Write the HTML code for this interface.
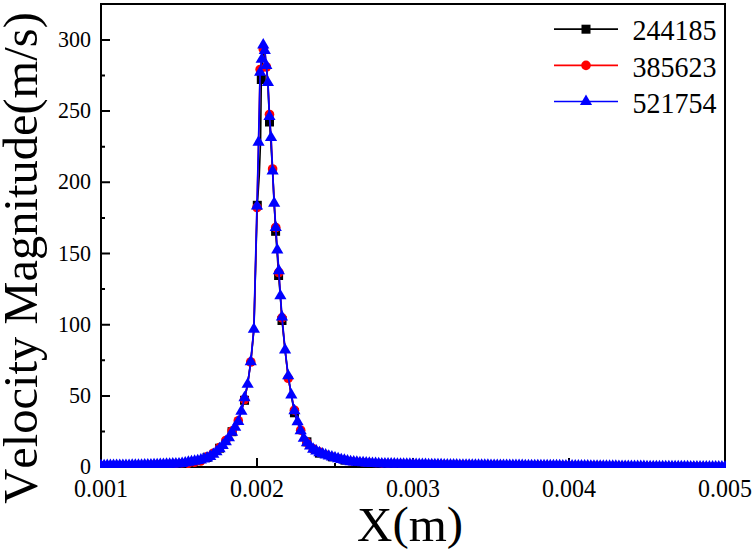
<!DOCTYPE html>
<html><head><meta charset="utf-8"><style>
html,body{margin:0;padding:0;background:#fff;}
svg{display:block;font-family:"Liberation Serif",serif;font-kerning:none;}
</style></head><body>
<svg width="753" height="550" viewBox="0 0 753 550">
<defs>
<clipPath id="c"><rect x="100" y="3" width="626" height="465"/></clipPath>
<path id="t" d="M0,-6.93 L6.10,3.47 L-6.10,3.47Z" fill="#0000ff"/>
<rect id="s" x="-4.5" y="-4.5" width="9.0" height="9.0" fill="#000"/>
<circle id="o" r="4.8" fill="#ff0000"/>
<circle id="o2" r="4.3" fill="#ff0000"/>
<rect id="s2" x="-4" y="-4" width="8" height="8" fill="#000"/>
</defs>
<rect width="753" height="550" fill="#fff"/>
<path d="M101,431.5h4M101,395.9h9M101,360.3h4M101,324.7h9M101,289.1h4M101,253.5h9M101,217.9h4M101,182.3h9M101,146.7h4M101,111.1h9M101,75.5h4M101,39.9h9M179.0,467v-4M257.0,467v-9M335.0,467v-4M413.0,467v-9M491.0,467v-4M569.0,467v-9M647.0,467v-4" stroke="#000" stroke-width="2" fill="none"/>
<rect x="101" y="4" width="624" height="463" fill="none" stroke="#000" stroke-width="2"/>
<g clip-path="url(#c)">
<path d="M101.00,465.90 L104.12,465.87 L107.24,465.84 L110.36,465.80 L113.48,465.77 L116.60,465.74 L119.72,465.71 L122.84,465.68 L125.96,465.64 L129.08,465.61 L132.20,465.58 L135.32,465.55 L138.44,465.52 L141.56,465.45 L144.68,465.34 L147.80,465.23 L150.92,465.12 L154.04,465.01 L157.16,464.90 L160.28,464.79 L163.40,464.68 L166.52,464.57 L169.64,464.46 L172.76,464.35 L175.88,464.24 L179.00,464.14 L182.12,463.72 L185.24,463.16 L188.36,462.60 L191.48,462.03 L194.60,461.47 L197.72,460.91 L200.84,459.33 L203.96,458.34 L207.08,457.40 L210.20,455.90 L213.32,453.80 L216.44,451.20 L219.56,448.20 L222.68,444.90 L225.80,441.10 L228.92,437.30 L232.04,431.70 L235.16,426.70 L238.28,421.00 L241.40,410.70 L244.52,400.30 L247.64,383.80 L250.76,362.20 L253.88,329.70 L257.30,205.30 L259.30,175.00 L260.60,140.00 L261.30,79.50 L263.24,48.00 L266.40,66.00 L267.90,84.00 L269.50,122.00 L272.60,171.00 L275.60,231.30 L277.10,253.00 L278.60,275.50 L280.40,297.50 L282.00,320.50 L285.08,350.50 L288.20,376.40 L291.32,395.50 L294.44,412.80 L297.56,422.30 L300.68,431.20 L303.80,438.90 L306.92,441.80 L310.04,446.50 L313.16,449.80 L316.28,451.48 L319.40,453.17 L322.52,454.18 L325.64,455.27 L328.76,456.37 L331.88,457.33 L335.00,458.20 L338.12,459.07 L341.24,459.89 L344.36,460.60 L347.48,461.32 L350.60,461.96 L353.72,462.27 L356.84,462.58 L359.96,462.90 L363.08,463.08 L366.20,463.27 L369.32,463.46 L372.44,463.65 L375.56,463.83 L378.68,464.02 L381.80,464.13 L384.92,464.18 L388.04,464.23 L391.16,464.28 L394.28,464.33 L397.40,464.38 L400.52,464.43 L403.64,464.48 L406.76,464.53 L409.88,464.59 L413.00,464.64 L416.12,464.69 L419.24,464.74 L422.36,464.79 L425.48,464.84 L428.60,464.89 L431.72,464.94 L434.84,464.99 L437.96,465.04 L441.08,465.09 L444.20,465.14 L447.32,465.19 L450.44,465.24 L453.56,465.30 L456.68,465.35 L459.80,465.40 L462.92,465.42 L466.04,465.44 L469.16,465.46 L472.28,465.49 L475.40,465.51 L478.52,465.53 L481.64,465.55 L484.76,465.57 L487.88,465.60 L491.00,465.62 L494.12,465.64 L497.24,465.66 L500.36,465.68 L503.48,465.70 L506.60,465.73 L509.72,465.75 L512.84,465.77 L515.96,465.79 L519.08,465.81 L522.20,465.84 L525.32,465.86 L528.44,465.88 L531.56,465.90 L534.68,465.92 L537.80,465.94 L540.92,465.97 L544.04,465.99 L547.16,466.01 L550.28,466.03 L553.40,466.05 L556.52,466.08 L559.64,466.10 L562.76,466.12 L565.88,466.15 L569.00,466.18 L572.12,466.21 L575.24,466.24 L578.36,466.26 L581.48,466.29 L584.60,466.32 L587.72,466.35 L590.84,466.37 L593.96,466.40 L597.08,466.43 L600.20,466.46 L603.32,466.49 L606.44,466.51 L609.56,466.54 L612.68,466.57 L615.80,466.60 L618.92,466.62 L622.04,466.65 L625.16,466.68 L628.28,466.71 L631.40,466.73 L634.52,466.76 L637.64,466.79 L640.76,466.82 L643.88,466.85 L647.00,466.87 L650.12,466.90 L653.24,466.92 L656.36,466.93 L659.48,466.95 L662.60,466.97 L665.72,466.98 L668.84,467.00 L671.96,467.02 L675.08,467.03 L678.20,467.05 L681.32,467.07 L684.44,467.08 L687.56,467.10 L690.68,467.12 L693.80,467.13 L696.92,467.15 L700.04,467.17 L703.16,467.18 L706.28,467.20 L709.40,467.22 L712.52,467.23 L715.64,467.25 L718.76,467.27 L721.88,467.28 L725.00,467.30" fill="none" stroke="#000" stroke-width="1.6" stroke-linejoin="round"/>
<use href="#s2" x="107.24" y="465.84"/><use href="#s2" x="119.72" y="465.71"/><use href="#s2" x="132.20" y="465.58"/><use href="#s2" x="144.68" y="465.34"/><use href="#s2" x="157.16" y="464.90"/><use href="#s2" x="169.64" y="464.46"/><use href="#s2" x="182.12" y="463.72"/><use href="#s2" x="194.60" y="461.47"/><use href="#s" x="207.08" y="457.40"/><use href="#s" x="219.56" y="448.20"/><use href="#s" x="232.04" y="431.70"/><use href="#s" x="244.52" y="400.30"/><use href="#s" x="257.30" y="205.30"/><use href="#s" x="261.30" y="79.50"/><use href="#s" x="269.50" y="122.00"/><use href="#s" x="275.60" y="231.30"/><use href="#s" x="278.60" y="275.50"/><use href="#s" x="282.00" y="320.50"/><use href="#s" x="294.44" y="412.80"/><use href="#s" x="306.92" y="441.80"/><use href="#s" x="319.40" y="453.17"/><use href="#s2" x="331.88" y="457.33"/><use href="#s2" x="344.36" y="460.60"/><use href="#s2" x="356.84" y="462.58"/><use href="#s2" x="369.32" y="463.46"/><use href="#s2" x="381.80" y="464.13"/><use href="#s2" x="394.28" y="464.33"/><use href="#s2" x="406.76" y="464.53"/><use href="#s2" x="419.24" y="464.74"/><use href="#s2" x="431.72" y="464.94"/><use href="#s2" x="444.20" y="465.14"/><use href="#s2" x="456.68" y="465.35"/><use href="#s2" x="469.16" y="465.46"/><use href="#s2" x="481.64" y="465.55"/><use href="#s2" x="494.12" y="465.64"/><use href="#s2" x="506.60" y="465.73"/><use href="#s2" x="519.08" y="465.81"/><use href="#s2" x="531.56" y="465.90"/><use href="#s2" x="544.04" y="465.99"/><use href="#s2" x="556.52" y="466.08"/><use href="#s2" x="569.00" y="466.18"/><use href="#s2" x="581.48" y="466.29"/><use href="#s2" x="593.96" y="466.40"/><use href="#s2" x="606.44" y="466.51"/><use href="#s2" x="618.92" y="466.62"/><use href="#s2" x="631.40" y="466.73"/><use href="#s2" x="643.88" y="466.85"/><use href="#s2" x="656.36" y="466.93"/><use href="#s2" x="668.84" y="467.00"/><use href="#s2" x="681.32" y="467.07"/><use href="#s2" x="693.80" y="467.13"/><use href="#s2" x="706.28" y="467.20"/><use href="#s2" x="718.76" y="467.27"/>
<path d="M101.00,465.30 L104.12,465.27 L107.24,465.24 L110.36,465.20 L113.48,465.17 L116.60,465.14 L119.72,465.11 L122.84,465.08 L125.96,465.04 L129.08,465.01 L132.20,464.98 L135.32,464.95 L138.44,464.92 L141.56,464.85 L144.68,464.74 L147.80,464.63 L150.92,464.52 L154.04,464.41 L157.16,464.30 L160.28,464.19 L163.40,464.08 L166.52,463.97 L169.64,463.86 L172.76,463.75 L175.88,463.64 L179.00,463.54 L182.12,463.12 L185.24,464.36 L188.36,463.80 L191.48,463.23 L194.60,462.67 L197.72,462.11 L200.84,461.43 L203.96,460.44 L207.08,456.80 L210.20,455.30 L213.32,453.20 L216.44,450.60 L219.56,447.60 L222.68,444.30 L225.80,440.50 L228.92,436.70 L232.04,431.10 L235.16,426.10 L238.28,420.70 L241.40,410.10 L244.52,399.50 L247.64,383.90 L250.76,362.00 L253.88,328.70 L257.00,207.50 L258.56,142.20 L260.12,69.50 L261.68,59.40 L263.24,49.00 L264.80,50.60 L266.36,67.00 L267.92,82.60 L269.48,114.50 L271.04,137.60 L272.60,169.00 L274.16,203.30 L275.72,227.50 L277.28,250.00 L278.84,272.50 L280.40,295.90 L281.96,317.80 L285.08,349.50 L288.20,378.30 L291.32,394.50 L294.44,410.20 L297.56,421.30 L300.68,430.20 L303.80,437.90 L306.92,442.40 L310.04,445.50 L313.16,448.80 L316.28,450.48 L319.40,452.17 L322.52,453.38 L325.64,454.47 L328.76,455.57 L331.88,456.53 L335.00,457.40 L338.12,458.27 L341.24,459.09 L344.36,459.80 L347.48,460.52 L350.60,461.16 L353.72,461.47 L356.84,461.78 L359.96,462.10 L363.08,462.28 L366.20,462.47 L369.32,462.66 L372.44,462.85 L375.56,463.03 L378.68,463.22 L381.80,463.33 L384.92,463.38 L388.04,463.43 L391.16,463.48 L394.28,463.53 L397.40,463.58 L400.52,463.63 L403.64,463.68 L406.76,463.73 L409.88,463.79 L413.00,463.84 L416.12,463.89 L419.24,463.94 L422.36,463.99 L425.48,464.04 L428.60,464.09 L431.72,464.14 L434.84,464.19 L437.96,464.24 L441.08,464.29 L444.20,464.34 L447.32,464.39 L450.44,464.44 L453.56,464.50 L456.68,464.55 L459.80,464.60 L462.92,464.62 L466.04,464.64 L469.16,464.66 L472.28,464.69 L475.40,464.71 L478.52,464.73 L481.64,464.75 L484.76,464.77 L487.88,464.80 L491.00,464.82 L494.12,464.84 L497.24,464.86 L500.36,464.88 L503.48,464.90 L506.60,464.93 L509.72,464.95 L512.84,464.97 L515.96,464.99 L519.08,465.01 L522.20,465.04 L525.32,465.06 L528.44,465.08 L531.56,465.10 L534.68,465.12 L537.80,465.14 L540.92,465.17 L544.04,465.19 L547.16,465.21 L550.28,465.23 L553.40,465.25 L556.52,465.28 L559.64,465.30 L562.76,465.32 L565.88,465.35 L569.00,465.38 L572.12,465.41 L575.24,465.44 L578.36,465.46 L581.48,465.49 L584.60,465.52 L587.72,465.55 L590.84,465.57 L593.96,465.60 L597.08,465.63 L600.20,465.66 L603.32,465.69 L606.44,465.71 L609.56,465.74 L612.68,465.77 L615.80,465.80 L618.92,465.82 L622.04,465.85 L625.16,465.88 L628.28,465.91 L631.40,465.93 L634.52,465.96 L637.64,465.99 L640.76,466.02 L643.88,466.05 L647.00,466.07 L650.12,466.10 L653.24,466.12 L656.36,466.13 L659.48,466.15 L662.60,466.17 L665.72,466.18 L668.84,466.20 L671.96,466.22 L675.08,466.23 L678.20,466.25 L681.32,466.27 L684.44,466.28 L687.56,466.30 L690.68,466.32 L693.80,466.33 L696.92,466.35 L700.04,466.37 L703.16,466.38 L706.28,466.40 L709.40,466.42 L712.52,466.43 L715.64,466.45 L718.76,466.47 L721.88,466.48 L725.00,466.50" fill="none" stroke="#ff0000" stroke-width="1.6" stroke-linejoin="round"/>
<use href="#o2" x="101.00" y="465.30"/><use href="#o2" x="107.24" y="465.24"/><use href="#o2" x="113.48" y="465.17"/><use href="#o2" x="119.72" y="465.11"/><use href="#o2" x="125.96" y="465.04"/><use href="#o2" x="132.20" y="464.98"/><use href="#o2" x="138.44" y="464.92"/><use href="#o2" x="144.68" y="464.74"/><use href="#o2" x="150.92" y="464.52"/><use href="#o2" x="157.16" y="464.30"/><use href="#o2" x="163.40" y="464.08"/><use href="#o2" x="169.64" y="463.86"/><use href="#o2" x="175.88" y="463.64"/><use href="#o2" x="182.12" y="463.12"/><use href="#o2" x="188.36" y="463.80"/><use href="#o2" x="194.60" y="462.67"/><use href="#o2" x="200.84" y="461.43"/><use href="#o" x="207.08" y="456.80"/><use href="#o" x="213.32" y="453.20"/><use href="#o" x="219.56" y="447.60"/><use href="#o" x="225.80" y="440.50"/><use href="#o" x="232.04" y="431.10"/><use href="#o" x="238.28" y="420.70"/><use href="#o" x="244.52" y="399.50"/><use href="#o" x="250.76" y="362.00"/><use href="#o" x="257.00" y="207.50"/><use href="#o" x="260.12" y="69.50"/><use href="#o" x="263.24" y="49.00"/><use href="#o" x="266.36" y="67.00"/><use href="#o" x="269.48" y="114.50"/><use href="#o" x="272.60" y="169.00"/><use href="#o" x="275.72" y="227.50"/><use href="#o" x="278.84" y="272.50"/><use href="#o" x="281.96" y="317.80"/><use href="#o" x="288.20" y="378.30"/><use href="#o" x="294.44" y="410.20"/><use href="#o" x="300.68" y="430.20"/><use href="#o" x="306.92" y="442.40"/><use href="#o" x="313.16" y="448.80"/><use href="#o" x="319.40" y="452.17"/><use href="#o2" x="325.64" y="454.47"/><use href="#o2" x="331.88" y="456.53"/><use href="#o2" x="338.12" y="458.27"/><use href="#o2" x="344.36" y="459.80"/><use href="#o2" x="350.60" y="461.16"/><use href="#o2" x="356.84" y="461.78"/><use href="#o2" x="363.08" y="462.28"/><use href="#o2" x="369.32" y="462.66"/><use href="#o2" x="375.56" y="463.03"/><use href="#o2" x="381.80" y="463.33"/><use href="#o2" x="388.04" y="463.43"/><use href="#o2" x="394.28" y="463.53"/><use href="#o2" x="400.52" y="463.63"/><use href="#o2" x="406.76" y="463.73"/><use href="#o2" x="413.00" y="463.84"/><use href="#o2" x="419.24" y="463.94"/><use href="#o2" x="425.48" y="464.04"/><use href="#o2" x="431.72" y="464.14"/><use href="#o2" x="437.96" y="464.24"/><use href="#o2" x="444.20" y="464.34"/><use href="#o2" x="450.44" y="464.44"/><use href="#o2" x="456.68" y="464.55"/><use href="#o2" x="462.92" y="464.62"/><use href="#o2" x="469.16" y="464.66"/><use href="#o2" x="475.40" y="464.71"/><use href="#o2" x="481.64" y="464.75"/><use href="#o2" x="487.88" y="464.80"/><use href="#o2" x="494.12" y="464.84"/><use href="#o2" x="500.36" y="464.88"/><use href="#o2" x="506.60" y="464.93"/><use href="#o2" x="512.84" y="464.97"/><use href="#o2" x="519.08" y="465.01"/><use href="#o2" x="525.32" y="465.06"/><use href="#o2" x="531.56" y="465.10"/><use href="#o2" x="537.80" y="465.14"/><use href="#o2" x="544.04" y="465.19"/><use href="#o2" x="550.28" y="465.23"/><use href="#o2" x="556.52" y="465.28"/><use href="#o2" x="562.76" y="465.32"/><use href="#o2" x="569.00" y="465.38"/><use href="#o2" x="575.24" y="465.44"/><use href="#o2" x="581.48" y="465.49"/><use href="#o2" x="587.72" y="465.55"/><use href="#o2" x="593.96" y="465.60"/><use href="#o2" x="600.20" y="465.66"/><use href="#o2" x="606.44" y="465.71"/><use href="#o2" x="612.68" y="465.77"/><use href="#o2" x="618.92" y="465.82"/><use href="#o2" x="625.16" y="465.88"/><use href="#o2" x="631.40" y="465.93"/><use href="#o2" x="637.64" y="465.99"/><use href="#o2" x="643.88" y="466.05"/><use href="#o2" x="650.12" y="466.10"/><use href="#o2" x="656.36" y="466.13"/><use href="#o2" x="662.60" y="466.17"/><use href="#o2" x="668.84" y="466.20"/><use href="#o2" x="675.08" y="466.23"/><use href="#o2" x="681.32" y="466.27"/><use href="#o2" x="687.56" y="466.30"/><use href="#o2" x="693.80" y="466.33"/><use href="#o2" x="700.04" y="466.37"/><use href="#o2" x="706.28" y="466.40"/><use href="#o2" x="712.52" y="466.43"/><use href="#o2" x="718.76" y="466.47"/><use href="#o2" x="725.00" y="466.50"/>
<path d="M101.00,465.60 L104.12,465.57 L107.24,465.54 L110.36,465.50 L113.48,465.47 L116.60,465.44 L119.72,465.41 L122.84,465.38 L125.96,465.34 L129.08,465.31 L132.20,465.28 L135.32,465.25 L138.44,465.22 L141.56,465.15 L144.68,465.04 L147.80,464.93 L150.92,464.82 L154.04,464.71 L157.16,464.60 L160.28,464.49 L163.40,464.38 L166.52,464.27 L169.64,464.16 L172.76,464.05 L175.88,463.94 L179.00,463.84 L182.12,463.42 L185.24,462.86 L188.36,462.30 L191.48,461.73 L194.60,461.17 L197.72,460.61 L200.84,459.93 L203.96,458.94 L207.08,458.00 L210.20,456.50 L213.32,454.40 L216.44,451.80 L219.56,448.80 L222.68,445.50 L225.80,441.70 L228.92,437.90 L232.04,432.30 L235.16,427.30 L238.28,421.60 L241.40,411.30 L244.52,397.80 L247.64,384.40 L250.76,361.70 L253.88,329.20 L257.00,206.10 L258.56,142.20 L260.12,72.40 L261.68,59.40 L263.24,45.00 L264.80,50.60 L266.36,65.60 L267.92,82.60 L269.48,116.60 L271.04,137.60 L272.60,171.10 L274.16,203.30 L275.72,227.50 L277.28,250.00 L278.84,270.70 L280.40,295.90 L281.96,317.00 L285.08,350.00 L288.20,375.90 L291.32,395.00 L294.44,410.70 L297.56,421.80 L300.68,430.70 L303.80,438.40 L306.92,442.90 L310.04,446.00 L313.16,449.30 L316.28,450.98 L319.40,452.67 L322.52,453.88 L325.64,454.97 L328.76,456.07 L331.88,457.03 L335.00,457.90 L338.12,458.77 L341.24,459.59 L344.36,460.30 L347.48,461.02 L350.60,461.66 L353.72,461.97 L356.84,462.28 L359.96,462.60 L363.08,462.78 L366.20,462.97 L369.32,463.16 L372.44,463.35 L375.56,463.53 L378.68,463.72 L381.80,463.83 L384.92,463.88 L388.04,463.93 L391.16,463.98 L394.28,464.03 L397.40,464.08 L400.52,464.13 L403.64,464.18 L406.76,464.23 L409.88,464.29 L413.00,464.34 L416.12,464.39 L419.24,464.44 L422.36,464.49 L425.48,464.54 L428.60,464.59 L431.72,464.64 L434.84,464.69 L437.96,464.74 L441.08,464.79 L444.20,464.84 L447.32,464.89 L450.44,464.94 L453.56,465.00 L456.68,465.05 L459.80,465.10 L462.92,465.12 L466.04,465.14 L469.16,465.16 L472.28,465.19 L475.40,465.21 L478.52,465.23 L481.64,465.25 L484.76,465.27 L487.88,465.30 L491.00,465.32 L494.12,465.34 L497.24,465.36 L500.36,465.38 L503.48,465.40 L506.60,465.43 L509.72,465.45 L512.84,465.47 L515.96,465.49 L519.08,465.51 L522.20,465.54 L525.32,465.56 L528.44,465.58 L531.56,465.60 L534.68,465.62 L537.80,465.64 L540.92,465.67 L544.04,465.69 L547.16,465.71 L550.28,465.73 L553.40,465.75 L556.52,465.78 L559.64,465.80 L562.76,465.82 L565.88,465.85 L569.00,465.88 L572.12,465.91 L575.24,465.94 L578.36,465.96 L581.48,465.99 L584.60,466.02 L587.72,466.05 L590.84,466.07 L593.96,466.10 L597.08,466.13 L600.20,466.16 L603.32,466.19 L606.44,466.21 L609.56,466.24 L612.68,466.27 L615.80,466.30 L618.92,466.32 L622.04,466.35 L625.16,466.38 L628.28,466.41 L631.40,466.43 L634.52,466.46 L637.64,466.49 L640.76,466.52 L643.88,466.55 L647.00,466.57 L650.12,466.60 L653.24,466.62 L656.36,466.63 L659.48,466.65 L662.60,466.67 L665.72,466.68 L668.84,466.70 L671.96,466.72 L675.08,466.73 L678.20,466.75 L681.32,466.77 L684.44,466.78 L687.56,466.80 L690.68,466.82 L693.80,466.83 L696.92,466.85 L700.04,466.87 L703.16,466.88 L706.28,466.90 L709.40,466.92 L712.52,466.93 L715.64,466.95 L718.76,466.97 L721.88,466.98 L725.00,467.00" fill="none" stroke="#0000ff" stroke-width="1.8" stroke-linejoin="round"/>
<use href="#t" x="101.00" y="465.60"/><use href="#t" x="104.12" y="465.57"/><use href="#t" x="107.24" y="465.54"/><use href="#t" x="110.36" y="465.50"/><use href="#t" x="113.48" y="465.47"/><use href="#t" x="116.60" y="465.44"/><use href="#t" x="119.72" y="465.41"/><use href="#t" x="122.84" y="465.38"/><use href="#t" x="125.96" y="465.34"/><use href="#t" x="129.08" y="465.31"/><use href="#t" x="132.20" y="465.28"/><use href="#t" x="135.32" y="465.25"/><use href="#t" x="138.44" y="465.22"/><use href="#t" x="141.56" y="465.15"/><use href="#t" x="144.68" y="465.04"/><use href="#t" x="147.80" y="464.93"/><use href="#t" x="150.92" y="464.82"/><use href="#t" x="154.04" y="464.71"/><use href="#t" x="157.16" y="464.60"/><use href="#t" x="160.28" y="464.49"/><use href="#t" x="163.40" y="464.38"/><use href="#t" x="166.52" y="464.27"/><use href="#t" x="169.64" y="464.16"/><use href="#t" x="172.76" y="464.05"/><use href="#t" x="175.88" y="463.94"/><use href="#t" x="179.00" y="463.84"/><use href="#t" x="182.12" y="463.42"/><use href="#t" x="185.24" y="462.86"/><use href="#t" x="188.36" y="462.30"/><use href="#t" x="191.48" y="461.73"/><use href="#t" x="194.60" y="461.17"/><use href="#t" x="197.72" y="460.61"/><use href="#t" x="200.84" y="459.93"/><use href="#t" x="203.96" y="458.94"/><use href="#t" x="207.08" y="458.00"/><use href="#t" x="210.20" y="456.50"/><use href="#t" x="213.32" y="454.40"/><use href="#t" x="216.44" y="451.80"/><use href="#t" x="219.56" y="448.80"/><use href="#t" x="222.68" y="445.50"/><use href="#t" x="225.80" y="441.70"/><use href="#t" x="228.92" y="437.90"/><use href="#t" x="232.04" y="432.30"/><use href="#t" x="235.16" y="427.30"/><use href="#t" x="238.28" y="421.60"/><use href="#t" x="241.40" y="411.30"/><use href="#t" x="244.52" y="397.80"/><use href="#t" x="247.64" y="384.40"/><use href="#t" x="250.76" y="361.70"/><use href="#t" x="253.88" y="329.20"/><use href="#t" x="257.00" y="206.10"/><use href="#t" x="258.56" y="142.20"/><use href="#t" x="260.12" y="72.40"/><use href="#t" x="261.68" y="59.40"/><use href="#t" x="263.24" y="45.00"/><use href="#t" x="264.80" y="50.60"/><use href="#t" x="266.36" y="65.60"/><use href="#t" x="267.92" y="82.60"/><use href="#t" x="269.48" y="116.60"/><use href="#t" x="271.04" y="137.60"/><use href="#t" x="272.60" y="171.10"/><use href="#t" x="274.16" y="203.30"/><use href="#t" x="275.72" y="227.50"/><use href="#t" x="277.28" y="250.00"/><use href="#t" x="278.84" y="270.70"/><use href="#t" x="280.40" y="295.90"/><use href="#t" x="281.96" y="317.00"/><use href="#t" x="285.08" y="350.00"/><use href="#t" x="288.20" y="375.90"/><use href="#t" x="291.32" y="395.00"/><use href="#t" x="294.44" y="410.70"/><use href="#t" x="297.56" y="421.80"/><use href="#t" x="300.68" y="430.70"/><use href="#t" x="303.80" y="438.40"/><use href="#t" x="306.92" y="442.90"/><use href="#t" x="310.04" y="446.00"/><use href="#t" x="313.16" y="449.30"/><use href="#t" x="316.28" y="450.98"/><use href="#t" x="319.40" y="452.67"/><use href="#t" x="322.52" y="453.88"/><use href="#t" x="325.64" y="454.97"/><use href="#t" x="328.76" y="456.07"/><use href="#t" x="331.88" y="457.03"/><use href="#t" x="335.00" y="457.90"/><use href="#t" x="338.12" y="458.77"/><use href="#t" x="341.24" y="459.59"/><use href="#t" x="344.36" y="460.30"/><use href="#t" x="347.48" y="461.02"/><use href="#t" x="350.60" y="461.66"/><use href="#t" x="353.72" y="461.97"/><use href="#t" x="356.84" y="462.28"/><use href="#t" x="359.96" y="462.60"/><use href="#t" x="363.08" y="462.78"/><use href="#t" x="366.20" y="462.97"/><use href="#t" x="369.32" y="463.16"/><use href="#t" x="372.44" y="463.35"/><use href="#t" x="375.56" y="463.53"/><use href="#t" x="378.68" y="463.72"/><use href="#t" x="381.80" y="463.83"/><use href="#t" x="384.92" y="463.88"/><use href="#t" x="388.04" y="463.93"/><use href="#t" x="391.16" y="463.98"/><use href="#t" x="394.28" y="464.03"/><use href="#t" x="397.40" y="464.08"/><use href="#t" x="400.52" y="464.13"/><use href="#t" x="403.64" y="464.18"/><use href="#t" x="406.76" y="464.23"/><use href="#t" x="409.88" y="464.29"/><use href="#t" x="413.00" y="464.34"/><use href="#t" x="416.12" y="464.39"/><use href="#t" x="419.24" y="464.44"/><use href="#t" x="422.36" y="464.49"/><use href="#t" x="425.48" y="464.54"/><use href="#t" x="428.60" y="464.59"/><use href="#t" x="431.72" y="464.64"/><use href="#t" x="434.84" y="464.69"/><use href="#t" x="437.96" y="464.74"/><use href="#t" x="441.08" y="464.79"/><use href="#t" x="444.20" y="464.84"/><use href="#t" x="447.32" y="464.89"/><use href="#t" x="450.44" y="464.94"/><use href="#t" x="453.56" y="465.00"/><use href="#t" x="456.68" y="465.05"/><use href="#t" x="459.80" y="465.10"/><use href="#t" x="462.92" y="465.12"/><use href="#t" x="466.04" y="465.14"/><use href="#t" x="469.16" y="465.16"/><use href="#t" x="472.28" y="465.19"/><use href="#t" x="475.40" y="465.21"/><use href="#t" x="478.52" y="465.23"/><use href="#t" x="481.64" y="465.25"/><use href="#t" x="484.76" y="465.27"/><use href="#t" x="487.88" y="465.30"/><use href="#t" x="491.00" y="465.32"/><use href="#t" x="494.12" y="465.34"/><use href="#t" x="497.24" y="465.36"/><use href="#t" x="500.36" y="465.38"/><use href="#t" x="503.48" y="465.40"/><use href="#t" x="506.60" y="465.43"/><use href="#t" x="509.72" y="465.45"/><use href="#t" x="512.84" y="465.47"/><use href="#t" x="515.96" y="465.49"/><use href="#t" x="519.08" y="465.51"/><use href="#t" x="522.20" y="465.54"/><use href="#t" x="525.32" y="465.56"/><use href="#t" x="528.44" y="465.58"/><use href="#t" x="531.56" y="465.60"/><use href="#t" x="534.68" y="465.62"/><use href="#t" x="537.80" y="465.64"/><use href="#t" x="540.92" y="465.67"/><use href="#t" x="544.04" y="465.69"/><use href="#t" x="547.16" y="465.71"/><use href="#t" x="550.28" y="465.73"/><use href="#t" x="553.40" y="465.75"/><use href="#t" x="556.52" y="465.78"/><use href="#t" x="559.64" y="465.80"/><use href="#t" x="562.76" y="465.82"/><use href="#t" x="565.88" y="465.85"/><use href="#t" x="569.00" y="465.88"/><use href="#t" x="572.12" y="465.91"/><use href="#t" x="575.24" y="465.94"/><use href="#t" x="578.36" y="465.96"/><use href="#t" x="581.48" y="465.99"/><use href="#t" x="584.60" y="466.02"/><use href="#t" x="587.72" y="466.05"/><use href="#t" x="590.84" y="466.07"/><use href="#t" x="593.96" y="466.10"/><use href="#t" x="597.08" y="466.13"/><use href="#t" x="600.20" y="466.16"/><use href="#t" x="603.32" y="466.19"/><use href="#t" x="606.44" y="466.21"/><use href="#t" x="609.56" y="466.24"/><use href="#t" x="612.68" y="466.27"/><use href="#t" x="615.80" y="466.30"/><use href="#t" x="618.92" y="466.32"/><use href="#t" x="622.04" y="466.35"/><use href="#t" x="625.16" y="466.38"/><use href="#t" x="628.28" y="466.41"/><use href="#t" x="631.40" y="466.43"/><use href="#t" x="634.52" y="466.46"/><use href="#t" x="637.64" y="466.49"/><use href="#t" x="640.76" y="466.52"/><use href="#t" x="643.88" y="466.55"/><use href="#t" x="647.00" y="466.57"/><use href="#t" x="650.12" y="466.60"/><use href="#t" x="653.24" y="466.62"/><use href="#t" x="656.36" y="466.63"/><use href="#t" x="659.48" y="466.65"/><use href="#t" x="662.60" y="466.67"/><use href="#t" x="665.72" y="466.68"/><use href="#t" x="668.84" y="466.70"/><use href="#t" x="671.96" y="466.72"/><use href="#t" x="675.08" y="466.73"/><use href="#t" x="678.20" y="466.75"/><use href="#t" x="681.32" y="466.77"/><use href="#t" x="684.44" y="466.78"/><use href="#t" x="687.56" y="466.80"/><use href="#t" x="690.68" y="466.82"/><use href="#t" x="693.80" y="466.83"/><use href="#t" x="696.92" y="466.85"/><use href="#t" x="700.04" y="466.87"/><use href="#t" x="703.16" y="466.88"/><use href="#t" x="706.28" y="466.90"/><use href="#t" x="709.40" y="466.92"/><use href="#t" x="712.52" y="466.93"/><use href="#t" x="715.64" y="466.95"/><use href="#t" x="718.76" y="466.97"/><use href="#t" x="721.88" y="466.98"/><use href="#t" x="725.00" y="467.00"/>
</g>
<g font-size="22" fill="#000"><text transform="translate(91.1,474.1) scale(1,1.06)" text-anchor="end">0</text><text transform="translate(91.1,402.9) scale(1,1.06)" text-anchor="end">50</text><text transform="translate(91.1,331.7) scale(1,1.06)" text-anchor="end">100</text><text transform="translate(91.1,260.5) scale(1,1.06)" text-anchor="end">150</text><text transform="translate(91.1,189.3) scale(1,1.06)" text-anchor="end">200</text><text transform="translate(91.1,118.1) scale(1,1.06)" text-anchor="end">250</text><text transform="translate(91.1,46.9) scale(1,1.06)" text-anchor="end">300</text></g>
<g font-size="24" fill="#000"><text transform="translate(101.0,496.6) scale(1,1.03)" text-anchor="middle">0.001</text><text transform="translate(257.0,496.6) scale(1,1.03)" text-anchor="middle">0.002</text><text transform="translate(413.0,496.6) scale(1,1.03)" text-anchor="middle">0.003</text><text transform="translate(569.0,496.6) scale(1,1.03)" text-anchor="middle">0.004</text><text transform="translate(725.0,496.6) scale(1,1.03)" text-anchor="middle">0.005</text></g>
<g font-size="49"><text x="357" y="540.6">X</text><text transform="translate(392.4,538.8) scale(1,0.94)">(</text><text x="408.7" y="540.6">m</text><text transform="translate(446.8,538.8) scale(1,0.94)">)</text></g>
<text transform="translate(36.5,503.8) rotate(-90)" font-size="48.5">Velocity Magnitude(m/s)</text>
<g stroke-width="1.7">
<path d="M554,29.2H618" stroke="#000"/><use href="#s" x="586" y="29.2"/>
<path d="M554,65.4H618" stroke="#ff0000"/><use href="#o" x="586" y="65.4"/>
<path d="M554,101.5H618" stroke="#0000ff"/><use href="#t" x="586" y="101.5"/>
</g>
<g font-size="28" fill="#000">
<text transform="translate(632.5,40.3) scale(1,1.06)">244185</text>
<text transform="translate(632.5,76.5) scale(1,1.06)">385623</text>
<text transform="translate(632.5,112.7) scale(1,1.06)">521754</text>
</g>
</svg>
</body></html>
